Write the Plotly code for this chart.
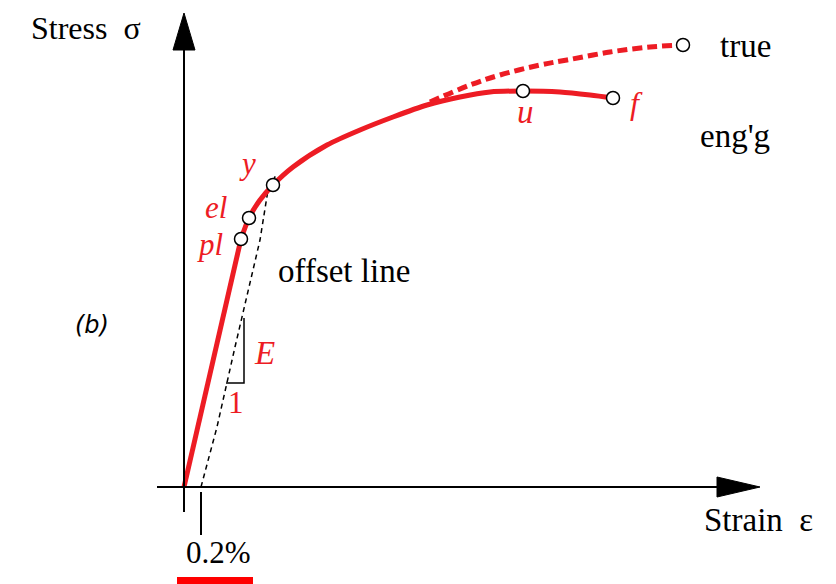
import plotly.graph_objects as go

# ---- data (arbitrary units: strain to the right, stress upward, origin at axes origin)
elastic_strain = [0, 57]
elastic_stress = [0, 248]

eng_strain = [57, 65, 76, 89, 109, 143, 176, 209, 243, 276, 306, 339, 376, 406, 429]
eng_stress = [248, 269, 287, 302, 320, 342, 357, 370, 382, 390, 395, 396, 395, 392, 389]

true_strain = [246, 286, 316, 356, 383, 426, 466, 499]
true_stress = [385, 402, 412, 422, 427, 435, 440, 442]

offset_strain = [17, 33, 51, 76, 84, 92]
offset_stress = [0, 60, 140, 247, 297, 312]

point_names = ["pl", "el", "y", "u", "f"]
point_strain = [57, 65, 89, 339, 429]
point_stress = [248, 269, 302, 396, 389]

true_end_strain = [499]
true_end_stress = [442]

RED = "#ed1c24"
SERIF = "Liberation Serif, Times New Roman, serif"

# page body has an 8px margin; the figure is placed to line up with the window
W, H, OFF = 828, 576, 8

fig = go.Figure()

fig.add_trace(go.Scatter(x=offset_strain, y=offset_stress, mode="lines",
                         line=dict(color="black", width=1.5, dash="5px,4px"),
                         hoverinfo="skip", showlegend=False))
fig.add_trace(go.Scatter(x=true_strain, y=true_stress, mode="lines",
                         line=dict(color=RED, width=5, dash="10px,5px", shape="spline"),
                         hoverinfo="skip", showlegend=False))
fig.add_trace(go.Scatter(x=elastic_strain, y=elastic_stress, mode="lines",
                         line=dict(color=RED, width=5), hoverinfo="skip", showlegend=False))
fig.add_trace(go.Scatter(x=eng_strain, y=eng_stress, mode="lines",
                         line=dict(color=RED, width=5, shape="spline", smoothing=0.8),
                         hoverinfo="skip", showlegend=False))
fig.add_trace(go.Scatter(x=point_strain + true_end_strain, y=point_stress + true_end_stress,
                         mode="markers",
                         marker=dict(symbol="circle", size=13, color="white",
                                     line=dict(color="black", width=1.5)),
                         hoverinfo="skip", showlegend=False))

shapes = []
shapes.append(dict(type="line", xref="x", yref="y", x0=-27, x1=540, y0=0, y1=0,
                   line=dict(color="black", width=2)))
shapes.append(dict(type="line", xref="x", yref="y", x0=0, x1=0, y0=-25, y1=440,
                   line=dict(color="black", width=2)))
shapes.append(dict(type="path", xref="x", yref="y",
                   path="M 0 474 L -11 437 L 11 437 Z", fillcolor="black",
                   line=dict(color="black", width=1)))
shapes.append(dict(type="path", xref="x", yref="y",
                   path="M 576 0 L 533 10 L 533 -10 Z", fillcolor="black",
                   line=dict(color="black", width=1)))
shapes.append(dict(type="line", xref="x", yref="y", x0=17, x1=17, y0=-5, y1=-48,
                   line=dict(color="black", width=2)))
shapes.append(dict(type="path", xref="x", yref="y",
                   path="M 60 169 L 60 104 L 42 104",
                   line=dict(color="black", width=1.5)))
shapes.append(dict(type="rect", xref="paper", yref="paper",
                   x0=(177 - OFF) / W, x1=(253 - OFF) / W, y0=0, y1=7 / H,
                   fillcolor="#ff0000", line=dict(width=0)))


def ann(x, y, text, size=33, color="black", family=SERIF, yanchor="middle"):
    return dict(x=(x - OFF) / W, y=1 - (y - OFF) / H, xref="paper", yref="paper",
                text=text, showarrow=False, xanchor="center", yanchor=yanchor,
                font=dict(family=family, size=size, color=color))


annotations = [
    ann(86, 8, "Stress&nbsp;&nbsp;σ", size=32, yanchor="top"),
    ann(758, 520, "Strain&nbsp;&nbsp;ε"),
    ann(218, 552, "0.2%", size=31),
    ann(344, 271, "offset line"),
    ann(745, 46, "true"),
    ann(735, 136, "eng'g"),
    ann(92, 325, "<i>(b)</i>", size=24, family="DejaVu Sans"),
    ann(247, 163, "<i>y</i>", size=31, color=RED),
    ann(216, 207, "<i>el</i>", size=31, color=RED),
    ann(210, 245, "<i>pl</i>", size=31, color=RED),
    ann(264, 353, "<i>E</i>", size=33, color=RED),
    ann(236, 402, "1", size=31, color=RED),
    ann(525, 112, "<i>u</i>", size=33, color=RED),
    ann(636, 103, "<i>f</i>", size=32, color=RED),
]

fig.update_layout(
    width=W, height=H,
    margin=dict(l=0, r=0, t=0, b=0),
    paper_bgcolor="white", plot_bgcolor="white",
    xaxis=dict(range=[OFF - 184, 836 - 184], visible=False, fixedrange=True),
    yaxis=dict(range=[487 - 584, 487 - OFF], visible=False, fixedrange=True),
    shapes=shapes, annotations=annotations,
)

fig.write_html("out.html")
